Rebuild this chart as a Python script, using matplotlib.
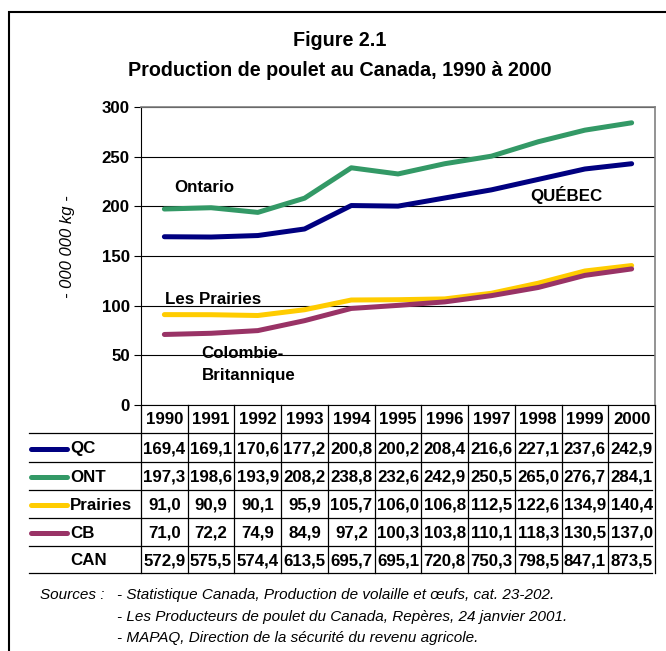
import matplotlib
matplotlib.use("Agg")
import matplotlib.pyplot as plt
from matplotlib.transforms import blended_transform_factory
from matplotlib.patches import Rectangle
from matplotlib.lines import Line2D

years = ["1990", "1991", "1992", "1993", "1994", "1995", "1996", "1997", "1998", "1999", "2000"]
qc = [169.4, 169.1, 170.6, 177.2, 200.8, 200.2, 208.4, 216.6, 227.1, 237.6, 242.9]
ont = [197.3, 198.6, 193.9, 208.2, 238.8, 232.6, 242.9, 250.5, 265.0, 276.7, 284.1]
prairies = [91.0, 90.9, 90.1, 95.9, 105.7, 106.0, 106.8, 112.5, 122.6, 134.9, 140.4]
cb = [71.0, 72.2, 74.9, 84.9, 97.2, 100.3, 103.8, 110.1, 118.3, 130.5, 137.0]
can = [572.9, 575.5, 574.4, 613.5, 695.7, 695.1, 720.8, 750.3, 798.5, 847.1, 873.5]
series_names = ["QC", "ONT", "Prairies", "CB"]
yticks = [0, 50, 100, 150, 200, 250, 300]

plt.rcParams['font.family'] = ['Liberation Sans', 'DejaVu Sans']

W, H = 666, 651
fig = plt.figure(figsize=(W / 100, H / 100), dpi=100)

def fx(px):
    return px / W

def fy(py):
    return 1 - py / H

FS = 12.2

ax = fig.add_axes([fx(141), fy(405), fx(655) - fx(141), fy(107) - fy(405)])

colors = ["#000080", "#339966", "#FFCC00", "#993366"]
data = [qc, ont, prairies, cb]
x = list(range(len(years)))
for vals, c in zip(data, colors):
    ax.plot(x, vals, color=c, lw=3.6, solid_capstyle='round', solid_joinstyle='round', zorder=3)

ax.set_xlim(-0.5, len(years) - 0.5)
ax.set_ylim(0, 300)
ax.set_yticks(yticks)
ax.set_yticklabels([str(v) for v in yticks], fontsize=FS, fontweight='bold')
ax.set_xticks([])
ax.grid(axis='y', color='black', lw=0.8)
ax.tick_params(axis='y', length=5, width=0.8, direction='out', pad=3)
for s in ['top', 'right']:
    ax.spines[s].set_color('#808080')
    ax.spines[s].set_linewidth(1.2)
ax.spines['left'].set_color('black')
ax.spines['bottom'].set_color('black')
ax.set_ylabel("- 000 000 kg -", fontsize=12, fontstyle='italic')
ax.yaxis.set_label_coords((75 - 141) / 514, (405 - 247) / 298)

# series labels in chart
ax.text(0.22, 219, "Ontario", fontsize=FS, fontweight='bold', ha='left', va='center')
ax.text(8.6, 211, "QUÉBEC", fontsize=FS, fontweight='bold', ha='center', va='center')
ax.text(0.02, 106, "Les Prairies", fontsize=FS, fontweight='bold', ha='left', va='center')
ax.text(0.8, 52, "Colombie-", fontsize=FS, fontweight='bold', ha='left', va='center')
ax.text(0.8, 30, "Britannique", fontsize=FS, fontweight='bold', ha='left', va='center')

# titles
fig.text(fx(340), fy(40), "Figure 2.1", fontsize=14.2, fontweight='bold', ha='center', va='center')
fig.text(fx(340), fy(71), "Production de poulet au Canada, 1990 à 2000", fontsize=14.2,
         fontweight='bold', ha='center', va='center')

# outer frame
fig.add_artist(Rectangle((fx(9), fy(700)), fx(700), fy(12) - fy(700), transform=fig.transFigure,
                         fill=False, edgecolor='black', lw=1.5))

# data table aligned to the x scale
bt = blended_transform_factory(ax.transData, fig.transFigure)
row_lines = [433, 462, 490, 518, 546, 573]
top_y = 405
tbl_left = 29
for ry in row_lines:
    fig.add_artist(Line2D([fx(tbl_left), fx(652)], [fy(ry), fy(ry)], transform=fig.transFigure,
                          color='black', lw=0.9))
for i in range(len(years) + 1):
    xv = i - 0.5
    ax.add_artist(Line2D([xv, xv], [fy(top_y), fy(573)], transform=bt, color='black', lw=0.9,
                         clip_on=False))
for i, yr in enumerate(years):
    ax.text(i, fy((top_y + row_lines[0]) / 2), yr, transform=bt, fontsize=FS, fontweight='bold',
            ha='center', va='center', clip_on=False)

rows = [qc, ont, prairies, cb, can]
labels = series_names + ["CAN"]
for r, (vals, lab) in enumerate(zip(rows, labels)):
    y_top = row_lines[r]
    y_bot = row_lines[r + 1]
    yc = fy((y_top + y_bot) / 2 + 1)
    for i, v in enumerate(vals):
        ax.text(i, yc, f"{v:.1f}".replace('.', ','), transform=bt, fontsize=FS,
                fontweight='bold', ha='center', va='center', clip_on=False)
    fig.text(fx(70), yc, lab, fontsize=FS, fontweight='bold', ha='left', va='center')
    if r < len(colors):
        fig.add_artist(Line2D([fx(31), fx(67)], [yc, yc], transform=fig.transFigure,
                              color=colors[r], lw=3.6, solid_capstyle='round'))

# sources
SF = 11
fig.text(fx(40), fy(595), "Sources :", fontsize=SF, fontstyle='italic', ha='left', va='center')
fig.text(fx(117), fy(595), "- Statistique Canada, Production de volaille et œufs, cat. 23-202.",
         fontsize=SF, fontstyle='italic', ha='left', va='center')
fig.text(fx(117), fy(617), "- Les Producteurs de poulet du Canada, Repères, 24 janvier 2001.",
         fontsize=SF, fontstyle='italic', ha='left', va='center')
fig.text(fx(117), fy(638), "- MAPAQ, Direction de la sécurité du revenu agricole.",
         fontsize=SF, fontstyle='italic', ha='left', va='center')

fig.savefig("out.png", dpi=100)
